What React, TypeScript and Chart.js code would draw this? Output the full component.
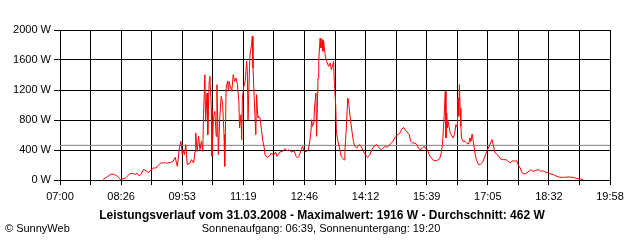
import { useEffect, useRef } from 'react';
import { Chart, registerables } from 'chart.js';

Chart.register(...registerables);

// minutes after 07:00
const minutes = [
  61, 65, 69, 73, 76, 80, 83, 86, 88, 92, 95, 99, 103, 106, 109, 112, 115, 118, 122, 125,
  129, 132, 136, 139, 143, 146, 149, 151, 156, 160, 163, 166, 169, 171, 173, 174, 176, 178, 180, 184,
  186, 189, 191, 192, 194, 196, 198, 200, 202, 203, 205, 206, 208, 209, 211, 212, 214, 215, 217, 219,
  221, 222, 224, 226, 228, 230, 232, 233, 234, 235, 237, 238, 239, 241, 243, 245, 247, 249, 251, 253,
  254, 256, 257, 258, 260, 262, 264, 265, 266, 268, 269, 271, 272, 273, 275, 277, 278, 280, 281, 283,
  285, 287, 289, 290, 293, 296, 299, 302, 305, 307, 311, 315, 318, 321, 324, 328, 331, 334, 336, 338,
  341, 343, 345, 348, 351, 353, 355, 356, 357, 359, 360, 362, 363, 365, 366, 368, 369, 371, 372, 373,
  375, 377, 380, 382, 384, 387, 388, 390, 391, 393, 395, 398, 402, 403, 405, 407, 408, 410, 413, 415,
  417, 420, 423, 426, 429, 432, 435, 438, 441, 444, 448, 451, 454, 456, 460, 463, 467, 471, 474, 477,
  481, 483, 486, 488, 491, 494, 496, 499, 502, 505, 507, 509, 512, 515, 517, 520, 522, 526, 529, 533,
  537, 539, 541, 543, 545, 546, 547, 548, 549, 552, 554, 556, 558, 560, 562, 563, 564, 565, 566, 567,
  568, 570, 573, 575, 578, 580, 581, 583, 585, 587, 589, 592, 595, 598, 601, 604, 607, 609, 611, 613,
  615, 618, 621, 623, 627, 631, 634, 637, 639, 641, 644, 646, 648, 651, 653, 655, 659, 662, 666, 669,
  672, 677, 680, 683, 686, 689, 693, 698, 703, 707, 712, 719, 726, 731, 736, 740,
];

// power in W
const watts = [
  10, 30, 60, 80, 75, 60, 30, 5, 15, 20, 50, 84, 90, 74, 90, 55, 80, 140, 120, 100,
  135, 160, 160, 196, 230, 225, 235, 225, 232, 249, 302, 182, 436, 516, 338, 404, 338, 471, 204, 227,
  271, 227, 382, 627, 382, 582, 404, 516, 382, 871, 1404, 782, 1160, 604, 1316, 1382, 960, 316, 827, 916,
  582, 1271, 338, 827, 1116, 1027, 604, 182, 649, 1227, 1316, 1204, 1316, 1249, 1182, 1404, 1316, 1360, 1271, 1049,
  693, 871, 538, 1093, 1249, 1316, 1582, 1449, 804, 1493, 1693, 1804, 1916, 1493, 1027, 604, 1138, 827, 849, 827,
  671, 516, 427, 338, 302, 316, 360, 329, 373, 316, 373, 382, 418, 391, 400, 373, 391, 316, 293, 316,
  400, 449, 400, 373, 400, 493, 649, 804, 716, 760, 960, 1160, 582, 1360, 1604, 1893, 1760, 1871, 1716, 1849,
  1671, 1582, 1516, 1560, 1471, 1582, 1316, 1000, 640, 520, 444, 311, 267, 382, 693, 1093, 1071, 871, 649, 516,
  449, 427, 471, 449, 382, 338, 302, 329, 404, 449, 471, 436, 404, 418, 449, 436, 480, 516, 569, 596,
  627, 671, 702, 671, 640, 604, 516, 493, 493, 471, 427, 404, 418, 449, 418, 404, 338, 284, 258, 258,
  284, 347, 471, 782, 1182, 560, 893, 693, 782, 627, 596, 560, 604, 738, 702, 1093, 849, 1271, 960, 716,
  560, 516, 516, 493, 480, 560, 516, 613, 493, 360, 271, 204, 213, 240, 316, 391, 449, 493, 538, 462,
  373, 338, 316, 280, 271, 271, 249, 227, 249, 258, 249, 258, 204, 160, 107, 84, 84, 107, 138, 116,
  124, 138, 116, 124, 107, 102, 84, 71, 49, 36, 36, 40, 36, 18, 13, 9,
];

const xLabels = ['07:00', '08:26', '09:53', '11:19', '12:46', '14:12', '15:39', '17:05', '18:32', '19:58'];
const yTicks = [0, 400, 800, 1200, 1600, 2000];
const average = 462;
const titleText = 'Leistungsverlauf vom 31.03.2008 - Maximalwert: 1916 W - Durchschnitt: 462 W';
const subtitleText = 'Sonnenaufgang: 06:39, Sonnenuntergang: 19:20';
const creditText = '\u00A9 SunnyWeb';

const SPAN = 778; // 07:00 -> 19:58
const FONT = '"Liberation Sans", Arial, sans-serif';

const footerPlugin = {
  id: 'footerText',
  afterDraw(chart: any) {
    const ctx = chart.ctx;
    ctx.save();
    ctx.fillStyle = '#000';
    ctx.textBaseline = 'middle';
    ctx.textAlign = 'center';
    ctx.font = `bold 12px ${FONT}`;
    ctx.fillText(titleText, 322, 216);
    ctx.font = `11px ${FONT}`;
    ctx.fillText(subtitleText, 321, 229);
    ctx.textAlign = 'left';
    ctx.fillText(creditText, 5, 229);
    ctx.restore();
  },
};

export default function App() {
  const ref = useRef<HTMLCanvasElement>(null);
  useEffect(() => {
    document.body.style.margin = '0';
    const chart = new Chart(ref.current!, {
      type: 'line',
      data: {
        datasets: [
          {
            data: minutes.map((m, i) => ({ x: m, y: watts[i] })),
            borderColor: '#ff0000',
            borderWidth: 1,
            pointRadius: 0,
            tension: 0,
            order: 0,
          },
          {
            data: [
              { x: 0, y: average },
              { x: SPAN, y: average },
            ],
            borderColor: '#808080',
            borderWidth: 1,
            pointRadius: 0,
            order: 1,
          },
        ],
      },
      options: {
        responsive: false,
        animation: false,
        events: [],
        layout: { padding: { top: 30, right: 30, left: 0, bottom: 0 } },
        plugins: { legend: { display: false }, tooltip: { enabled: false } },
        scales: {
          x: {
            type: 'linear',
            min: 0,
            max: SPAN,
            afterBuildTicks: (s: any) => {
              s.ticks = Array.from({ length: 19 }, (_, i) => ({ value: (i * SPAN) / 18 }));
            },
            afterFit: (s: any) => {
              s.height = 60;
            },
            ticks: {
              autoSkip: false,
              maxRotation: 0,
              padding: 5,
              color: '#000',
              font: { family: FONT, size: 11 },
              callback: (_v: any, i: number) => (i % 2 === 0 ? xLabels[i / 2] : ''),
            },
            grid: { color: '#000', lineWidth: 1, tickLength: 5 },
            border: { color: '#000' },
          },
          y: {
            min: 0,
            max: 2000,
            afterBuildTicks: (s: any) => {
              s.ticks = yTicks.map((v) => ({ value: v }));
            },
            afterFit: (s: any) => {
              s.width = 60;
            },
            ticks: {
              padding: 3,
              color: '#000',
              font: { family: FONT, size: 11 },
              callback: (v: any) => `${v} W`,
            },
            grid: { color: '#000', lineWidth: 1, tickLength: 6 },
            border: { color: '#000' },
          },
        },
      },
      plugins: [footerPlugin],
    });
    return () => chart.destroy();
  }, []);
  return <canvas ref={ref} width={640} height={240} style={{ display: 'block' }} />;
}
